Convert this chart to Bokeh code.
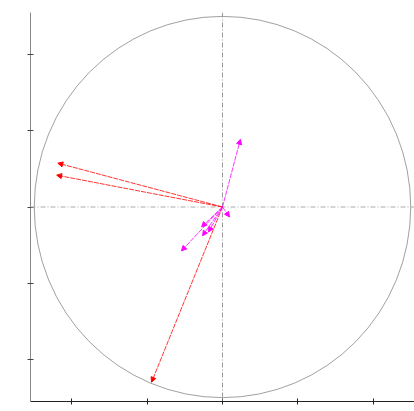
from bokeh.plotting import figure
from bokeh.models import Arrow, NormalHead, ColumnDataSource, Span, FixedTicker, Range1d
from bokeh.embed import file_html
from bokeh.resources import INLINE

# Variable vectors (correlation circle)
red_x = [-0.875, -0.881, -0.377]
red_y = [0.230, 0.167, -0.919]
mag_x = [0.095, 0.037, -0.111, -0.074, -0.106, -0.218]
mag_y = [0.355, -0.052, -0.104, -0.131, -0.151, -0.230]
ticks = [-0.8, -0.4, 0.0, 0.4, 0.8]

p = figure(width=414, height=411, output_backend="svg", toolbar_location=None,
           x_range=Range1d(-1.02, 1.02), y_range=Range1d(-1.02, 1.02),
           min_border_left=30, min_border_top=12, min_border_right=0, min_border_bottom=10)
p.outline_line_color = None
p.grid.visible = False
p.background_fill_color = "white"

for ax in (p.xaxis[0], p.yaxis[0]):
    ax.ticker = FixedTicker(ticks=ticks)
    ax.major_label_overrides = {t: "" for t in ticks}
    ax.major_label_text_font_size = "1px"
    ax.major_label_standoff = 0
    ax.minor_tick_line_color = None
    ax.major_tick_in = 3
    ax.major_tick_out = 3
p.xaxis.axis_line_color = "#222222"
p.xaxis.major_tick_line_color = "#222222"
p.yaxis.axis_line_color = "#888888"
p.yaxis.major_tick_line_color = "#444444"

# unit circle
p.ellipse(x=0, y=0, width=2, height=2, fill_color=None, line_color="#777777", line_width=0.7)

# center cross lines
p.add_layout(Span(location=0, dimension="width", line_color="#aaaaaa", line_width=1, line_dash="5 2 1 2"))
p.add_layout(Span(location=0, dimension="height", line_color="#999999", line_width=1, line_dash="5 2 1 2"))

def add_arrows(xs, ys, color):
    src = ColumnDataSource(dict(x0=[0.0] * len(xs), y0=[0.0] * len(xs), x1=xs, y1=ys))
    p.add_layout(Arrow(source=src, x_start="x0", y_start="y0", x_end="x1", y_end="y1",
                       line_color=color, line_width=1, line_dash="5 1", line_alpha=0.8,
                       end=NormalHead(size=5, fill_color=color, line_color=color)))

add_arrows(red_x, red_y, "#ff0000")
add_arrows(mag_x, mag_y, "#ff00ff")

open("out.html", "w").write(file_html(p, INLINE))
